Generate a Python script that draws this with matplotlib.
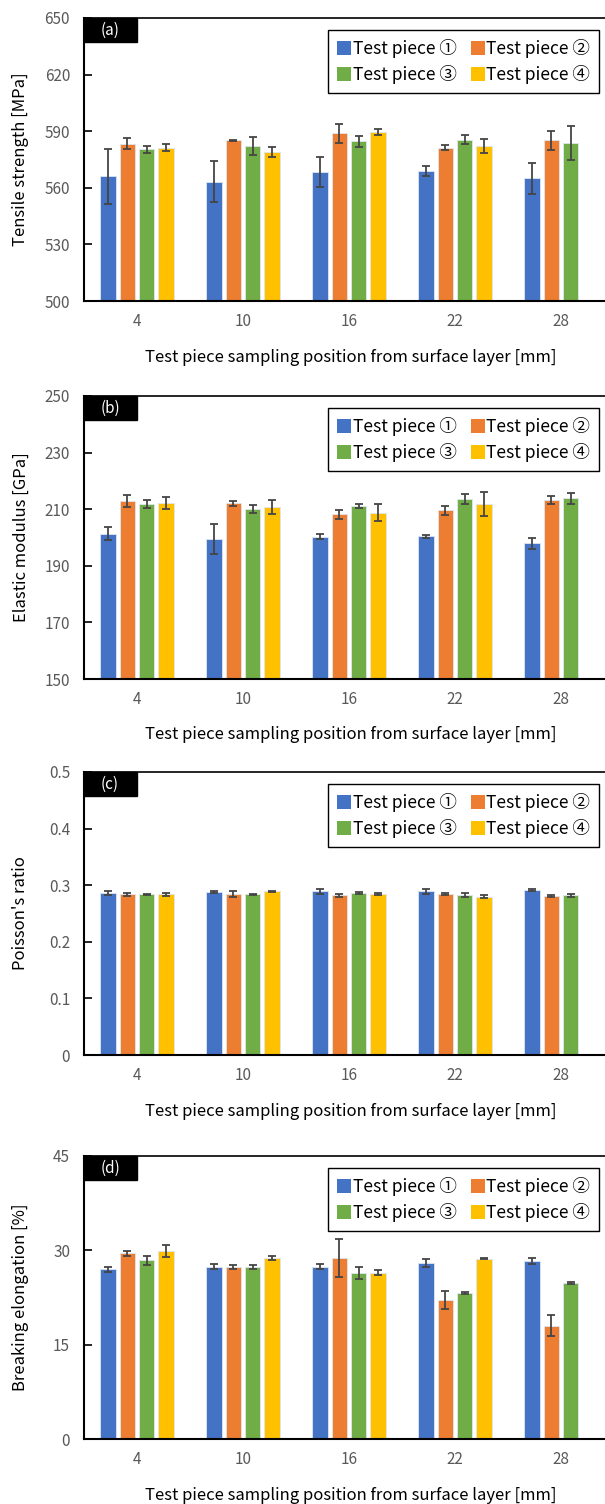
import numpy as np
import matplotlib
matplotlib.use("Agg")
import matplotlib.pyplot as plt
from matplotlib.patches import Rectangle

plt.rcParams['font.family'] = ['Noto Sans CJK JP', 'DejaVu Sans']

positions = ["4", "10", "16", "22", "28"]
pieces = ["Test piece ①", "Test piece ②", "Test piece ③", "Test piece ④"]
colors = ["#4472C4", "#ED7D31", "#70AD47", "#FFC000"]
xlabel = "Test piece sampling position from surface layer [mm]"

# (a) tensile strength [MPa], one list per test piece (over positions)
tensile = [
    [566.0, 563.2, 568.3, 568.9, 565.0],
    [583.3, 585.2, 588.8, 581.3, 585.1],
    [580.4, 582.2, 584.7, 585.6, 583.8],
    [581.3, 579.0, 589.7, 582.2, np.nan],
]
tensile_err = [
    [14.8, 10.8, 8.0, 2.4, 8.4],
    [2.9, 0.4, 4.8, 1.3, 5.2],
    [1.9, 4.6, 3.0, 2.5, 8.9],
    [1.9, 2.6, 1.6, 3.5, np.nan],
]

# (b) elastic modulus [GPa]
modulus = [
    [201.4, 199.5, 200.2, 200.4, 197.9],
    [212.8, 212.1, 208.2, 209.6, 213.2],
    [211.7, 210.0, 211.1, 213.6, 213.8],
    [212.2, 210.7, 208.8, 211.8, np.nan],
]
modulus_err = [
    [2.2, 5.4, 0.9, 0.5, 1.8],
    [2.1, 0.8, 1.6, 1.5, 1.4],
    [1.4, 1.5, 0.6, 1.8, 1.9],
    [2.2, 2.5, 3.1, 4.3, np.nan],
]

# (c) Poisson's ratio
poisson = [
    [0.286, 0.288, 0.289, 0.289, 0.291],
    [0.284, 0.285, 0.282, 0.284, 0.281],
    [0.284, 0.284, 0.286, 0.283, 0.282],
    [0.284, 0.289, 0.285, 0.280, np.nan],
]
poisson_err = [
    [0.004, 0.002, 0.004, 0.004, 0.002],
    [0.003, 0.005, 0.003, 0.002, 0.002],
    [0.001, 0.001, 0.002, 0.003, 0.002],
    [0.003, 0.001, 0.002, 0.003, np.nan],
]

# (d) breaking elongation [%]
elong = [
    [27.0, 27.4, 27.4, 28.0, 28.3],
    [29.5, 27.3, 28.8, 22.1, 18.0],
    [28.4, 27.4, 26.4, 23.2, 24.8],
    [29.9, 28.8, 26.4, 28.7, np.nan],
]
elong_err = [
    [0.4, 0.35, 0.4, 0.6, 0.5],
    [0.4, 0.3, 3.0, 1.5, 1.7],
    [0.7, 0.3, 0.9, 0.2, 0.2],
    [1.0, 0.35, 0.4, 0.1, np.nan],
]

panels = [
    ("(a)", "Tensile strength [MPa]", tensile, tensile_err, (500, 650), [500, 530, 560, 590, 620, 650], 18),
    ("(b)", "Elastic modulus [GPa]", modulus, modulus_err, (150, 250), [150, 170, 190, 210, 230, 250], 396),
    ("(c)", "Poisson's ratio", poisson, poisson_err, (0, 0.5), [0, 0.1, 0.2, 0.3, 0.4, 0.5], 772),
    ("(d)", "Breaking elongation [%]", elong, elong_err, (0, 45), [0, 15, 30, 45], 1156),
]

W, H = 605, 1504
fig = plt.figure(figsize=(W / 100, H / 100), dpi=100)

AX_L, AX_R, AX_H = 84, 614, 283
bw = 0.145
step = 0.182
x = np.arange(len(positions)) + 0.5

for tag, ylab, vals, errs, ylim, yticks, top in panels:
    ax = fig.add_axes([AX_L / W, 1 - (top + AX_H) / H, (AX_R - AX_L) / W, AX_H / H])
    bars = []
    for i in range(4):
        b = ax.bar(x + (i - 1.5) * step, vals[i], bw, yerr=errs[i], color=colors[i],
                   edgecolor="#dfe6f2", linewidth=0.6, label=pieces[i], capsize=3,
                   error_kw=dict(ecolor="#454545", elinewidth=1.3, capthick=1.3), zorder=2)
        bars.append(b)
    ax.set_xlim(0, 5)
    ax.set_ylim(*ylim)
    ax.set_yticks(yticks)
    ax.set_yticklabels([f"{t:g}" for t in yticks])
    ax.set_xticks(x)
    ax.set_xticklabels(positions)
    ax.tick_params(axis="y", direction="in", length=6, width=1.2, pad=10,
                   labelsize=11, labelcolor="#595959", color="black")
    ax.tick_params(axis="x", length=0, pad=9, labelsize=11, labelcolor="#595959")
    for s in ax.spines.values():
        s.set_color("black")
    ax.spines["left"].set_linewidth(1.5)
    ax.spines["bottom"].set_linewidth(1.5)
    ax.spines["top"].set_linewidth(1.2)

    # panel tag
    ax.add_patch(Rectangle((0, 1 - 24 / AX_H), 53 / (AX_R - AX_L), 24 / AX_H,
                           transform=ax.transAxes, color="black", clip_on=False, zorder=5))
    ax.text(26 / (AX_R - AX_L), 1 - 12 / AX_H, tag, transform=ax.transAxes,
            ha="center", va="center", color="white", fontsize=11, zorder=6)

    # legend rows: (1, 2) then (3, 4)
    order = [0, 2, 1, 3]
    leg = ax.legend([bars[k] for k in order], [pieces[k] for k in order],
                    ncol=2, loc="upper right", bbox_to_anchor=(0.9717, 1 - 12 / AX_H),
                    borderaxespad=0, fontsize=12.6, handlelength=0.82, handleheight=0.85,
                    handletextpad=0.08, columnspacing=0.8, labelspacing=0.4,
                    fancybox=False, edgecolor="black", framealpha=1, borderpad=0.5)
    leg.get_frame().set_linewidth(1.0)
    for h in leg.legend_handles:
        h.set_edgecolor("none")

    fig.text(21 / W, 1 - (top + AX_H / 2) / H, ylab, rotation=90, ha="center",
             va="center", fontsize=12, color="black")
    fig.text(351 / W, 1 - (top + AX_H + 56) / H, xlabel, ha="center", va="center",
             fontsize=12, color="black")

fig.savefig("out.png", dpi=100)
